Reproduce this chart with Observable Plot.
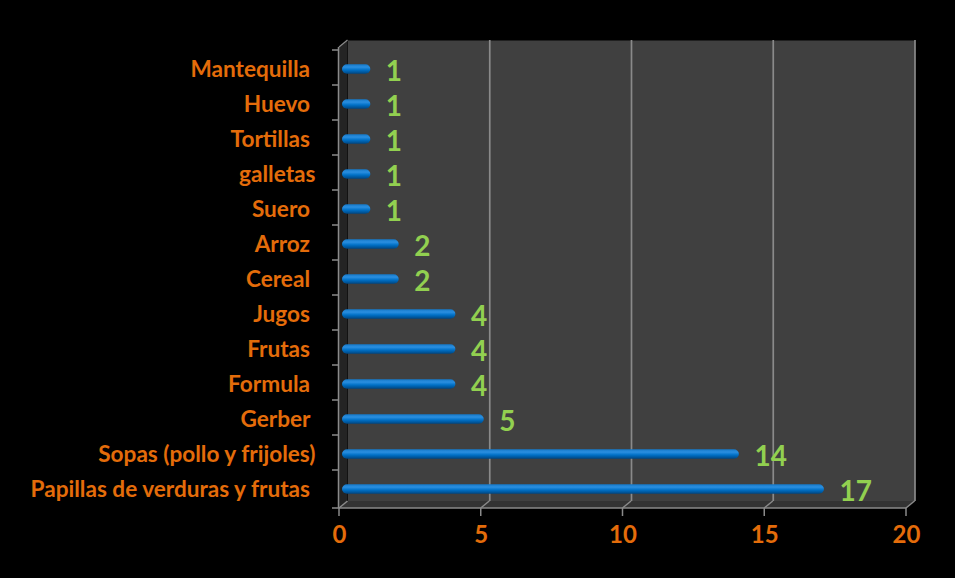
<!DOCTYPE html>
<html>
<head>
<meta charset="utf-8">
<script src="https://cdn.jsdelivr.net/npm/d3@7"></script>
<script src="https://cdn.jsdelivr.net/npm/@observablehq/plot@0.6"></script>
<style>
  html, body { margin: 0; padding: 0; background: #000; }
  #chart { width: 955px; height: 578px; }
  svg text.cat { white-space: pre; }
</style>
</head>
<body>
<div id="chart"></div>
<script>
const categories = ["Mantequilla ", "Huevo ", "Tortillas ", "galletas", "Suero ", "Arroz ", "Cereal ", "Jugos ", "Frutas ", "Formula ", "Gerber ", "Sopas (pollo y frijoles)", "Papillas de verduras y frutas "];
const values = [1, 1, 1, 1, 1, 2, 2, 4, 4, 4, 5, 14, 17];
const xTicks = [0, 5, 10, 15, 20];

const data = categories.map((c, i) => ({category: c, value: values[i]}));

const ORANGE = "#E46C0A";
const GREEN = "#92D050";
const GRID = "#8a8a8a";
const DX = 8.5, DY = -7; // 3D depth offset

function defs() {
  const d = d3.create("svg:defs");
  const g = d.append("linearGradient").attr("id", "cyl").attr("x1", 0).attr("y1", 0).attr("x2", 0).attr("y2", 1);
  g.append("stop").attr("offset", "0%").attr("stop-color", "#1478c8");
  g.append("stop").attr("offset", "30%").attr("stop-color", "#2b8fe0");
  g.append("stop").attr("offset", "60%").attr("stop-color", "#0070c6");
  g.append("stop").attr("offset", "100%").attr("stop-color", "#004580");
  return d.node();
}

function decorations(index, scales, values, dims) {
  const {width, height, marginLeft, marginRight, marginTop, marginBottom} = dims;
  const x0 = marginLeft, x1 = width - marginRight;
  const yT = marginTop, yB = height - marginBottom;
  const g = d3.create("svg:g");
  g.append("path")
    .attr("d", `M${x0},${yT}L${x0 + DX},${yT + DY}L${x0 + DX},${yB + DY}L${x0},${yB}Z`)
    .attr("fill", "#242424");
  g.append("path")
    .attr("d", `M${x0},${yB}L${x0 + DX},${yB + DY}L${x1 + DX},${yB + DY}L${x1},${yB}Z`)
    .attr("fill", "#333333");
  for (const t of xTicks) {
    const px = scales.x(t);
    g.append("line").attr("x1", px).attr("y1", yB).attr("x2", px + DX).attr("y2", yB + DY)
      .attr("stroke", GRID).attr("stroke-width", 1.5);
  }
  g.append("line").attr("x1", x0).attr("y1", yT).attr("x2", x0 + DX).attr("y2", yT + DY)
    .attr("stroke", GRID).attr("stroke-width", 1.2);
  g.append("line").attr("x1", x0).attr("y1", yB).attr("x2", x1).attr("y2", yB)
    .attr("stroke", GRID).attr("stroke-width", 1.5);
  for (const t of xTicks) {
    const px = scales.x(t);
    g.append("line").attr("x1", px).attr("y1", yB).attr("x2", px).attr("y2", yB + 8)
      .attr("stroke", GRID).attr("stroke-width", 1.5);
  }
  g.append("line").attr("x1", x0 - 0.5).attr("y1", yT).attr("x2", x0 - 0.5).attr("y2", yB)
    .attr("stroke", GRID).attr("stroke-width", 1.5);
  const bounds = categories.map(c => scales.y(c)).concat([yB]);
  for (const b of bounds) {
    g.append("line").attr("x1", x0 - 7).attr("y1", b).attr("x2", x0).attr("y2", b)
      .attr("stroke", GRID).attr("stroke-width", 1.5);
  }
  return g.node();
}

const bandH = (578 - 70 - 47) / categories.length;
const inset = (bandH - 10) / 2;

const chart = Plot.plot({
  width: 955,
  height: 578,
  marginLeft: 339,
  marginRight: 49,
  marginTop: 47,
  marginBottom: 70,
  style: {background: "#000", fontFamily: "Lato, 'Open Sans', sans-serif"},
  x: {domain: [0, 20], axis: null},
  y: {domain: categories, padding: 0, axis: null},
  marks: [
    defs,
    Plot.frame({fill: "#404040", dx: DX, dy: DY}),
    decorations,
    Plot.ruleX(xTicks.slice(1), {dx: DX, dy: DY, stroke: GRID, strokeWidth: 1.7}),
    Plot.barX(data, {x: "value", y: "category", fill: "url(#cyl)", insetTop: inset, insetBottom: inset, rx: 5, dx: 3, dy: 1.5}),
    Plot.text(data, {x: "value", y: "category", text: d => String(d.value), textAnchor: "start", dx: 18, dy: 4.5, fill: GREEN, fontSize: 28, fontWeight: "bold"}),
    Plot.text(data, {x: 0, y: "category", text: "category", textAnchor: "end", dx: -24, dy: 2, fill: ORANGE, fontSize: 22.6, fontWeight: "bold", className: "cat"}),
    Plot.text(xTicks, {x: d => d, frameAnchor: "bottom", dy: 34.5, text: d => String(d), fill: ORANGE, fontSize: 24, fontWeight: "bold"})
  ]
});

document.getElementById("chart").appendChild(chart);
</script>
</body>
</html>
